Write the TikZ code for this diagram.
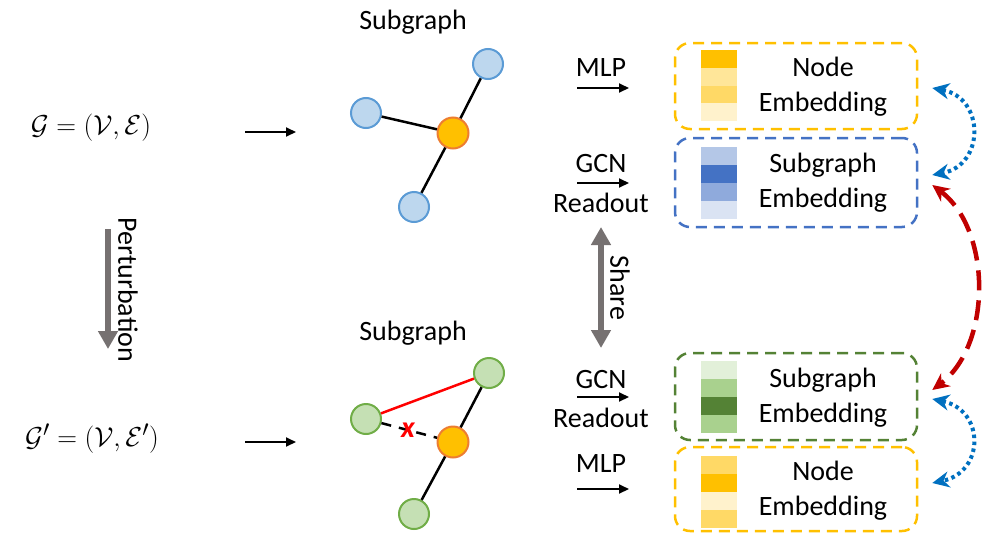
\documentclass[tikz,border=0pt]{standalone}
\usepackage{fontspec}
\setmainfont{Carlito}
\usetikzlibrary{arrows.meta,calc}

\definecolor{ngold}{HTML}{FFC000}
\definecolor{nedge}{HTML}{ED7D31}
\definecolor{bfill}{HTML}{BDD7EE}
\definecolor{bline}{HTML}{5B9BD5}
\definecolor{gfill}{HTML}{C5E0B4}
\definecolor{gline}{HTML}{70AD47}
\definecolor{boxblue}{HTML}{4472C4}
\definecolor{boxgreen}{HTML}{548235}
\definecolor{shaftgray}{RGB}{118,113,113}
\definecolor{linkblue}{HTML}{0070C0}
\definecolor{linkred}{HTML}{C00000}
% stripe shades
\definecolor{gold1}{HTML}{FFE699}
\definecolor{gold2}{HTML}{FFD966}
\definecolor{gold3}{HTML}{FFF2CC}
\definecolor{blue1}{HTML}{B4C7E7}
\definecolor{blue2}{HTML}{8FAADC}
\definecolor{blue3}{HTML}{DAE3F3}
\definecolor{green1}{HTML}{E2F0D9}
\definecolor{green2}{HTML}{A9D18E}

\newcommand{\bigmath}[1]{\scalebox{1.1}{$#1$}}

\tikzset{
  lbl/.style={font=\fontsize{28}{35}\selectfont, inner sep=0pt, align=center},
  mathlbl/.style={font=\fontsize{24.88}{30}\selectfont, inner sep=0pt},
  vtx/.style={circle, line width=2pt, minimum size=30pt, inner sep=0pt},
  bluevtx/.style={vtx, fill=bfill, draw=bline},
  greenvtx/.style={vtx, fill=gfill, draw=gline},
  centervtx/.style={vtx, fill=ngold, draw=nedge, minimum size=31pt},
  edge/.style={line width=2.5pt, black},
  flow/.style={line width=2pt, -{Triangle[length=10pt,width=9pt]}},
  bigarrow/.style={line width=6.5pt, shaftgray, -{Triangle[length=18pt,width=19pt]}},
  bigdouble/.style={line width=6.5pt, shaftgray, {Triangle[length=18pt,width=19pt]}-{Triangle[length=18pt,width=19pt]}},
  embbox/.style={rounded corners=15pt, line width=2.5pt, dash pattern=on 11pt off 7pt,
                 minimum width=242pt, inner sep=0pt},
  dotlink/.style={linkblue, line width=4pt, dash pattern=on 3.5pt off 3.5pt,
                  {Stealth[length=17pt,width=16pt]}-{Stealth[length=17pt,width=16pt]}},
  dashlink/.style={linkred, line width=4.5pt, dash pattern=on 20pt off 10pt,
                   {Stealth[length=17pt,width=16pt]}-{Stealth[length=17pt,width=16pt]}},
}

\begin{document}
\begin{tikzpicture}[x=1pt, y=-1pt]
\useasboundingbox (0,0) rectangle (985,533);

% ---------- input graphs ----------
\node[mathlbl] (g)  at (91,128) {\bigmath{\mathcal{G}=(\mathcal{V},\mathcal{E})}};
\node[mathlbl] (gp) at (92,439) {\bigmath{\mathcal{G}'=(\mathcal{V},\mathcal{E}')}};

\coordinate (ga) at (245,132);
\coordinate (gb) at (296,132);
\coordinate (gpa) at (245,442);
\coordinate (gpb) at (296,442);
\draw[flow] (ga) -- (gb);
\draw[flow] (gpa) -- (gpb);

% perturbation
\coordinate (pt) at (108,229);
\coordinate (pb) at (108,349);
\draw[bigarrow] (pt) -- (pb);
\node[lbl, rotate=-90] (pert) at (128,290) {Perturbation};

% ---------- original subgraph ----------
\node[lbl] (sgA) at (413,22) {Subgraph};
\node[bluevtx]   (t1) at (366,113) {};
\node[bluevtx]   (t2) at (488,64)  {};
\node[centervtx] (tc) at (453,133) {};
\node[bluevtx]   (t3) at (414,207) {};
\draw[edge] (t1) -- (tc);
\draw[edge] (t2) -- (tc);
\draw[edge] (t3) -- (tc);

% ---------- perturbed subgraph ----------
\node[lbl] (sgB) at (413,333) {Subgraph};
\node[greenvtx]  (b1) at (366,419) {};
\node[greenvtx]  (b2) at (489,373) {};
\node[centervtx] (bc) at (453,442) {};
\node[greenvtx]  (b3) at (414,514) {};
\draw[edge, red] (b1) -- (b2);
\draw[edge, dash pattern=on 10pt off 8pt] (b1) -- (bc);
\draw[edge] (b2) -- (bc);
\draw[edge] (b3) -- (bc);
\node[text=red, font=\fontsize{30}{30}\selectfont\bfseries\itshape, inner sep=0pt] (cut) at (408,430) {x};

% ---------- encoders ----------
\node[lbl] (mlpA) at (601,68) {MLP};
\coordinate (mA1) at (577,88);
\coordinate (mA2) at (629,88);
\draw[flow] (mA1) -- (mA2);

\node[lbl] (gcnA) at (601,164) {GCN};
\node[lbl] (roA)  at (601,203) {Readout};
\coordinate (cA1) at (577,183);
\coordinate (cA2) at (629,183);
\draw[flow] (cA1) -- (cA2);

\coordinate (s1) at (601,227);
\coordinate (s2) at (601,348);
\draw[bigdouble] (s1) -- (s2);
\node[lbl, rotate=-90] (share) at (620,288) {Share};

\node[lbl] (gcnB) at (601,380) {GCN};
\node[lbl] (roB)  at (601,418) {Readout};
\coordinate (cB1) at (577,397);
\coordinate (cB2) at (629,397);
\draw[flow] (cB1) -- (cB2);

\node[lbl] (mlpB) at (601,464) {MLP};
\coordinate (mB1) at (577,489);
\coordinate (mB2) at (629,489);
\draw[flow] (mB1) -- (mB2);

% ---------- embedding boxes ----------
\node[embbox, draw=ngold,    minimum height=86pt] (nbA) at (796,86)    {};
\node[embbox, draw=boxblue,  minimum height=89pt] (sbA) at (796,182.5) {};
\node[embbox, draw=boxgreen, minimum height=87pt] (sbB) at (796,396.5) {};
\node[embbox, draw=ngold,    minimum height=84pt] (nbB) at (796,489)   {};

% feature stripes
\fill[ngold]   (701,50)     rectangle (737,67.75);
\fill[gold1]   (701,67.75)  rectangle (737,85.5);
\fill[gold2]   (701,85.5)   rectangle (737,103.25);
\fill[gold3]   (701,103.25) rectangle (737,121);

\fill[blue1]   (701,147) rectangle (737,165);
\fill[boxblue] (701,165) rectangle (737,183);
\fill[blue2]   (701,183) rectangle (737,201);
\fill[blue3]   (701,201) rectangle (737,219);

\fill[green1]   (701,361) rectangle (737,379);
\fill[green2]   (701,379) rectangle (737,397);
\fill[boxgreen] (701,397) rectangle (737,415);
\fill[green2]   (701,415) rectangle (737,433);

\fill[gold2]   (701,456) rectangle (737,474);
\fill[ngold]   (701,474) rectangle (737,492);
\fill[gold3]   (701,492) rectangle (737,510);
\fill[gold2]   (701,510) rectangle (737,528);

\node[lbl] (tnA) at (823,87)  {Node\\Embedding};
\node[lbl] (tsA) at (823,183) {Subgraph\\Embedding};
\node[lbl] (tsB) at (823,398) {Subgraph\\Embedding};
\node[lbl] (tnB) at (823,491) {Node\\Embedding};

% ---------- contrast links ----------
\coordinate (u1) at ($(nbA.east)+(14,2)$);
\coordinate (u2) at ($(sbA.east)+(14,-7.5)$);
\coordinate (r1) at ($(sbA.east)+(14,2.5)$);
\coordinate (r2) at ($(sbB.east)+(14,-6.5)$);
\coordinate (v1) at ($(sbB.east)+(14,2.5)$);
\coordinate (v2) at ($(nbB.east)+(14,-6)$);

\draw[dotlink]  (u1) .. controls (985,98)  and (985,165) .. (u2);
\draw[dashlink] (r1) .. controls (992,230) and (992,345) .. (r2);
\draw[dotlink]  (v1) .. controls (985,410) and (985,472) .. (v2);
\end{tikzpicture}
\end{document}
